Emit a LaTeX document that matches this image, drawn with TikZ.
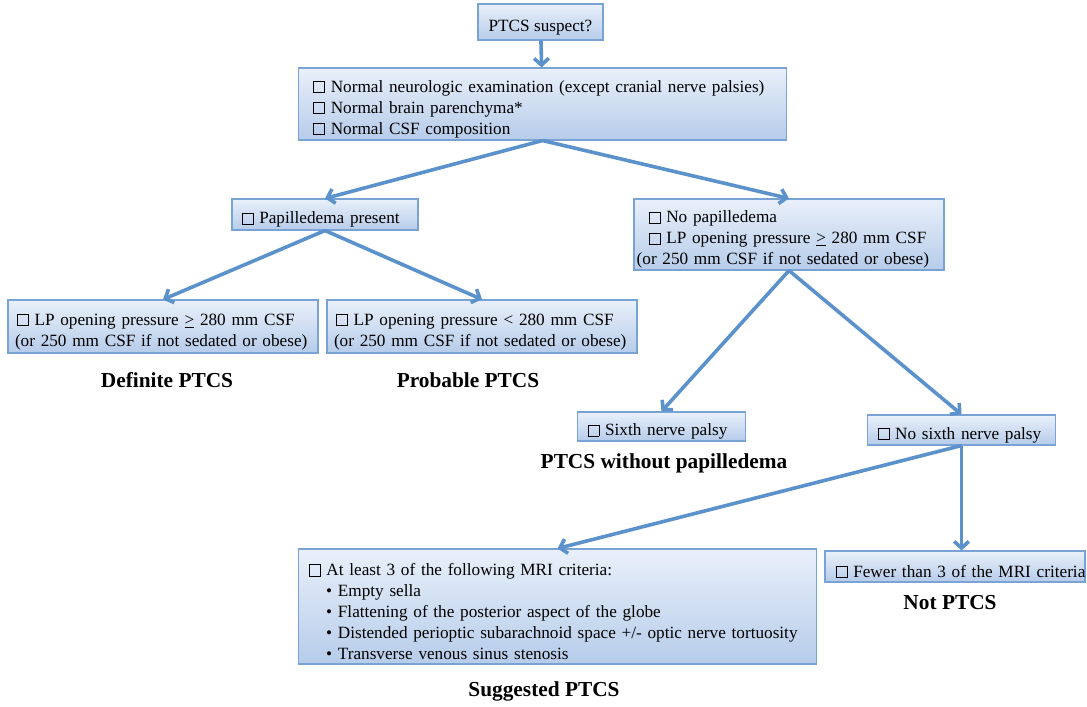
\documentclass[tikz,border=0pt]{standalone}
\usepackage{fontspec}
\setmainfont{Liberation Serif}
\usetikzlibrary{arrows.meta}
\definecolor{flowblue}{RGB}{92,146,204}
\definecolor{boxline}{RGB}{122,163,213}
\definecolor{boxtop}{RGB}{233,240,250}
\definecolor{boxbot}{RGB}{182,204,234}
\newcommand{\cb}{{\setlength{\fboxsep}{0pt}\setlength{\fboxrule}{0.45pt}\fbox{\rule{0pt}{0.62em}\hspace{0.62em}}}\ }
\newcommand{\bul}{\hspace*{15pt}\textbullet\ }
\hyphenpenalty=10000

\begin{document}
\begin{tikzpicture}[x=0.75pt,y=-0.75pt,>={Straight Barb[length=5pt,width=11pt]},
  crit/.style={draw=boxline,line width=0.8pt,top color=boxtop,bottom color=boxbot,
    font=\fontsize{12.9}{15.7}\selectfont,align=left,inner ysep=0pt,
    execute at begin node={\rule{0pt}{1.3em}}},
  verdict/.style={font=\fontsize{16}{19}\selectfont\bfseries},
  flow/.style={->,draw=flowblue,line width=2.7pt}]
\useasboundingbox (0,0) rectangle (1087,706);

% boxes
\node[crit,align=center,minimum width=93.75pt,minimum height=27pt] (suspect) at (540.5,22) {PTCS suspect?};
\node[crit,text width=350pt,inner xsep=8.25pt,minimum height=54pt] (normal) at (542.5,104)
  {\hspace*{3pt}\cb Normal neurologic examination (except cranial nerve palsies)\\
   \hspace*{3pt}\cb Normal brain parenchyma*\\
   \hspace*{3pt}\cb Normal CSF composition};
\node[crit,text width=125pt,inner xsep=7.25pt,minimum height=23.25pt] (pap) at (325,214.5) {\cb Papilledema present};
\node[crit,text width=228.5pt,inner xsep=2pt,minimum height=53.25pt] (nopap) at (789,234.5)
  {\hspace*{9pt}\cb No papilledema\\
   \hspace*{9pt}\cb LP opening pressure \underline{>} 280 mm CSF\\
   (or 250 mm CSF if not sedated or obese)};
\node[crit,text width=224pt,inner xsep=4.25pt,minimum height=39.75pt] (lpge) at (163,326.5)
  {\hspace*{2.5pt}\cb LP opening pressure \underline{>} 280 mm CSF\\
   \hspace*{1pt}(or 250 mm CSF if not sedated or obese)};
\node[crit,text width=224pt,inner xsep=4.25pt,minimum height=39.75pt] (lplt) at (482,326.5)
  {\hspace*{2.5pt}\cb LP opening pressure < 280 mm CSF\\
   \hspace*{1pt}(or 250 mm CSF if not sedated or obese)};
\node[crit,text width=111pt,inner xsep=7.25pt,minimum height=21.75pt] (sixth) at (661.5,426.5) {\cb Sixth nerve palsy};
\node[crit,text width=126pt,inner xsep=7.25pt,minimum height=22.5pt] (nosixth) at (961.5,430) {\cb No sixth nerve palsy};
\node[crit,text width=379pt,inner xsep=5pt,minimum height=86.25pt] (mri) at (557.5,606.5)
  {\hspace*{3pt}\cb At least 3 of the following MRI criteria:\\
   \hspace*{1pt}\bul Empty sella\\
   \hspace*{1pt}\bul Flattening of the posterior aspect of the globe\\
   \hspace*{1pt}\bul Distended perioptic subarachnoid space +/- optic nerve tortuosity\\
   \hspace*{1pt}\bul Transverse venous sinus stenosis};
\node[crit,text width=189pt,inner xsep=3pt,minimum height=23.25pt] (fewer) at (955,566.5) {\mbox{\hspace*{5pt}\cb Fewer than 3 of the MRI criteria}};

% verdicts
\node[verdict] (definite) at (167,380) {Definite PTCS};
\node[verdict] (probable) at (468,380) {Probable PTCS};
\node[verdict] (nopapdx) at (664,463) {PTCS without papilledema};
\node[verdict] (notptcs) at (950,603) {Not PTCS};
\node[verdict] (suggested) at (544,691) {Suggested PTCS};

% arrows
\draw[flow] (suspect) -- (normal);
\draw[flow] (normal.south) -- (pap.north);
\draw[flow] (normal.south) -- (nopap.north);
\draw[flow] (pap.south) -- (lpge.north);
\draw[flow] (pap.south) -- (lplt.north);
\draw[flow] (nopap.south) -- (sixth.north);
\draw[flow] (nopap.south) -- (nosixth.north);
\draw[flow] (nosixth.south) -- (mri.north);
\draw[flow] (nosixth.south) -- (nosixth.south |- fewer.north);
\end{tikzpicture}
\end{document}
